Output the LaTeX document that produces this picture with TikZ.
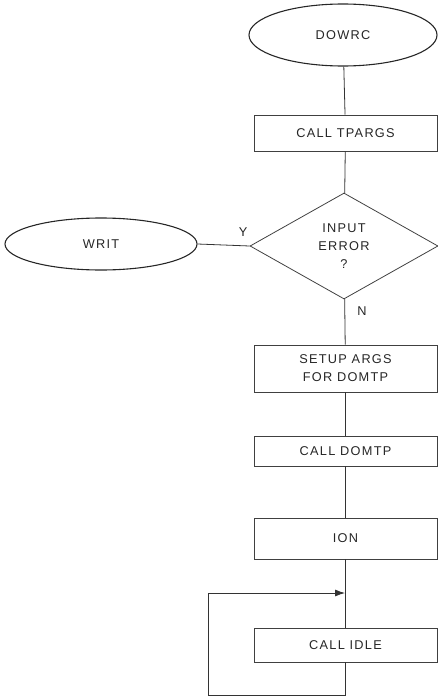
\documentclass[tikz,border=0pt]{standalone}
\usepackage{fontspec}
\setmainfont{Liberation Sans}[LetterSpace=10]
\usetikzlibrary{shapes.geometric,arrows.meta}
\begin{document}
\begin{tikzpicture}[x=1bp,y=-1bp,
  every node/.style={font=\fontsize{12.8}{18}\selectfont, text=black!85},
  term/.style={ellipse, draw=black!85, line width=1.1pt, minimum width=188bp, minimum height=62bp, inner sep=0pt},
  proc/.style={rectangle, draw=black!75, line width=0.8pt, minimum width=183bp, inner sep=0pt, align=center},
  dec/.style={diamond, draw=black!75, line width=0.8pt, minimum width=188bp, minimum height=106bp, aspect=1.77, inner sep=0pt, align=center},
  conn/.style={draw=black!80, line width=0.8pt},
  lbl/.style={inner sep=0pt}
]
\useasboundingbox (0,0) rectangle (438,698);

\node[term] (dowrc) at (343,35) {DOWRC};
\node[proc, minimum height=36bp] (tparg) at (345.5,133) {CALL TPARGS};
\node[dec] (err) at (344,246) {INPUT\\ERROR\\?};
\node[term, minimum width=192bp, minimum height=52bp] (writ) at (101,244) {WRIT};
\node[proc, minimum height=47bp] (setup) at (345.5,368.5) {SETUP ARGS\\FOR DOMTP};
\node[proc, minimum height=30bp] (domtp) at (345.5,451) {CALL DOMTP};
\node[proc, minimum height=41bp] (ion) at (345.5,538.5) {ION};
\node[proc, minimum height=34bp] (idle) at (345.5,645) {CALL IDLE};

\node[lbl] (y) at (243,232) {Y};
\node[lbl] (n) at (362,311) {N};

\coordinate (j) at (345,593);
\coordinate (lb) at (208,695);

\draw[conn] (dowrc) -- (tparg);
\draw[conn] (tparg) -- (err);
\draw[conn] (err.west) -- (writ.east);
\draw[conn] (err) -- (setup);
\draw[conn] (setup) -- (domtp);
\draw[conn] (domtp) -- (ion);
\draw[conn] (ion) -- (idle);
\draw[conn,-{Latex[length=10bp,width=7bp]}] (idle.south) |- (lb) |- (j);
\end{tikzpicture}
\end{document}
